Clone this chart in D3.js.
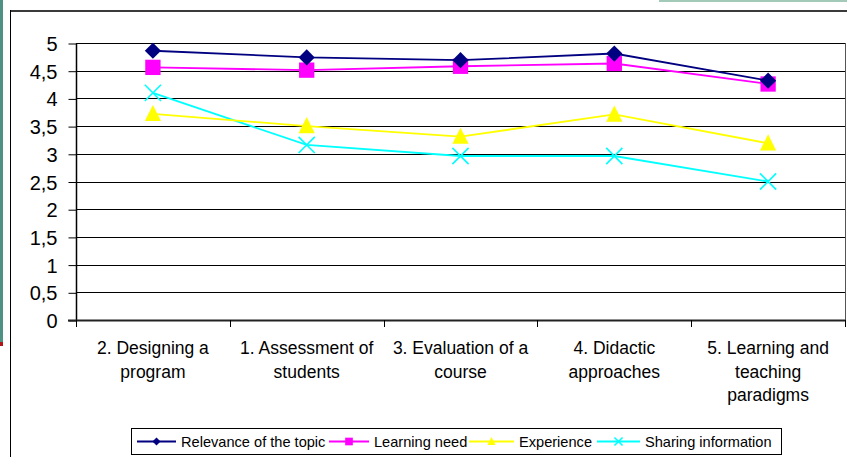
<!DOCTYPE html>
<html>
<head>
<meta charset="utf-8">
<script src="https://cdn.jsdelivr.net/npm/d3@7"></script>
<style>
  html, body { margin: 0; padding: 0; background: #fff; }
  svg { display: block; }
  text { font-family: Arial, "Liberation Sans", sans-serif; fill: #000; }
</style>
</head>
<body>
<svg id="chart" width="847" height="457"></svg>
<script>
// Topics on the horizontal axis (each split into display lines)
const categories = [
  ["2. Designing a", "program"],
  ["1. Assessment of", "students"],
  ["3. Evaluation of a", "course"],
  ["4. Didactic", "approaches"],
  ["5. Learning and", "teaching", "paradigms"]
];
const yTicks = [0, 0.5, 1, 1.5, 2, 2.5, 3, 3.5, 4, 4.5, 5];
const yTickLabels = ["0", "0,5", "1", "1,5", "2", "2,5", "3", "3,5", "4", "4,5", "5"];

// Mean scores per topic
const relevance = [4.86, 4.74, 4.69, 4.81, 4.32];
const learningNeed = [4.56, 4.51, 4.58, 4.63, 4.26];
const experience = [3.72, 3.50, 3.31, 3.71, 3.19];
const sharing = [4.10, 3.16, 2.96, 2.96, 2.50];

const seriesNames = ["Relevance of the topic", "Learning need", "Experience", "Sharing information"];

const series = [
  { name: seriesNames[0], values: relevance, color: "#000080", marker: "diamond" },
  { name: seriesNames[1], values: learningNeed, color: "#ff00ff", marker: "square" },
  { name: seriesNames[2], values: experience, color: "#ffff00", marker: "triangle" },
  { name: seriesNames[3], values: sharing, color: "#00ffff", marker: "cross" }
];

const svg = d3.select("#chart");

// Slide decoration: accent bars and the chart frame
svg.append("rect").attr("x", 0).attr("y", 0).attr("width", 3).attr("height", 342).attr("fill", "#4e9381");
svg.append("rect").attr("x", 0).attr("y", 342).attr("width", 3).attr("height", 4).attr("fill", "#b01818");
svg.append("rect").attr("x", 659).attr("y", 0).attr("width", 188).attr("height", 2).attr("fill", "#a3c9b9");
svg.append("line").attr("x1", 10).attr("x2", 847).attr("y1", 11).attr("y2", 11)
  .attr("stroke", "#3a3a3a").attr("stroke-width", 2);
svg.append("line").attr("x1", 10.5).attr("x2", 10.5).attr("y1", 10).attr("y2", 457)
  .attr("stroke", "#000").attr("stroke-width", 1);

const plot = { left: 76, right: 845, top: 43, bottom: 320 };

const x = d3.scaleBand()
  .domain(d3.range(categories.length))
  .range([plot.left, plot.right])
  .paddingInner(0).paddingOuter(0);

const y = d3.scaleLinear().domain([0, 5]).range([plot.bottom, plot.top]);

// Horizontal gridlines
svg.append("g")
  .selectAll("line")
  .data(yTicks.slice(1))
  .join("line")
  .attr("x1", plot.left).attr("x2", plot.right)
  .attr("y1", d => Math.round(y(d)) + 0.5).attr("y2", d => Math.round(y(d)) + 0.5)
  .attr("stroke", "#000").attr("stroke-width", 1);

// Plot area right border
svg.append("line")
  .attr("x1", plot.right + 0.5).attr("x2", plot.right + 0.5)
  .attr("y1", y(5)).attr("y2", plot.bottom)
  .attr("stroke", "#555").attr("stroke-width", 1);

// Y axis
const yAxis = d3.axisLeft(y)
  .tickValues(yTicks)
  .tickFormat((d, i) => yTickLabels[i])
  .tickSize(8)
  .tickPadding(11);
const yG = svg.append("g")
  .attr("transform", `translate(${plot.left + 0.5},0.5)`)
  .call(yAxis);
yG.selectAll("text").style("font-size", "20px").attr("dy", "0.35em");
yG.selectAll("line").attr("stroke", "#000");
yG.select(".domain").attr("stroke", "#000").attr("d", `M0,${y(5)}V${plot.bottom}`).attr("stroke-width", 1.5);

// X axis with ticks between categories
const xG = svg.append("g").attr("transform", `translate(0,${plot.bottom})`);
xG.append("line")
  .attr("x1", plot.left - 8).attr("x2", plot.right + 0.5)
  .attr("y1", 0.5).attr("y2", 0.5)
  .attr("stroke", "#222").attr("stroke-width", 2);
const boundaries = d3.range(categories.length + 1).map(i =>
  i < categories.length ? x(i) : x(categories.length - 1) + x.bandwidth());
xG.selectAll(".tick")
  .data(boundaries)
  .join("line")
  .attr("class", "tick")
  .attr("x1", d => Math.round(d) + 0.5).attr("x2", d => Math.round(d) + 0.5)
  .attr("y1", 0).attr("y2", 7)
  .attr("stroke", "#000");

const labels = xG.selectAll(".cat")
  .data(categories)
  .join("text")
  .attr("class", "cat")
  .attr("text-anchor", "middle")
  .style("font-size", "17.5px")
  .attr("transform", (d, i) => `translate(${x(i) + x.bandwidth() / 2},34)`);
labels.selectAll("tspan")
  .data(d => d)
  .join("tspan")
  .attr("x", 0)
  .attr("y", (d, i) => i * 23.5)
  .text(d => d);

// Marker shapes
function drawMarker(g, type, color, size) {
  if (type === "diamond") {
    const s = size * 0.9;
    g.append("path").attr("d", `M0,${-s}L${s},0L0,${s}L${-s},0Z`).attr("fill", color);
  } else if (type === "square") {
    const s = size * 0.85;
    g.append("rect").attr("x", -s).attr("y", -s).attr("width", 2 * s).attr("height", 2 * s).attr("fill", color);
  } else if (type === "triangle") {
    const s = size;
    g.append("path").attr("d", `M0,${-s}L${s * 0.9},${s * 0.8}L${-s * 0.9},${s * 0.8}Z`).attr("fill", color);
  } else if (type === "cross") {
    const s = size * 0.9;
    g.append("path").attr("d", `M${-s},${-s}L${s},${s}M${-s},${s}L${s},${-s}`)
      .attr("stroke", color).attr("stroke-width", 1.6).attr("fill", "none");
  }
}

const line = d3.line()
  .x((d, i) => x(i) + x.bandwidth() / 2)
  .y(d => y(d));

// Draw series in reverse so the first series sits on top
[...series].reverse().forEach(s => {
  const g = svg.append("g");
  g.append("path")
    .datum(s.values)
    .attr("d", line)
    .attr("fill", "none")
    .attr("stroke", s.color)
    .attr("stroke-width", 1.8);
  s.values.forEach((v, i) => {
    const m = g.append("g").attr("transform", `translate(${x(i) + x.bandwidth() / 2},${y(v)})`);
    drawMarker(m, s.marker, s.color, 9);
  });
});

// Legend
const legend = svg.append("g");
legend.append("rect")
  .attr("x", 131.5).attr("y", 428.5).attr("width", 650).attr("height", 26)
  .attr("fill", "#fff").attr("stroke", "#000").attr("stroke-width", 1);

const legendItems = [
  { lx: 137, tx: 181 },
  { lx: 329, tx: 374 },
  { lx: 469, tx: 519 },
  { lx: 597, tx: 645 }
];
series.forEach((s, i) => {
  const it = legendItems[i];
  const gy = 441.5;
  const lw = it.tx - it.lx - 5;
  legend.append("line")
    .attr("x1", it.lx).attr("x2", it.lx + lw)
    .attr("y1", gy).attr("y2", gy)
    .attr("stroke", s.color).attr("stroke-width", 1.8);
  const m = legend.append("g").attr("transform", `translate(${it.lx + lw / 2},${gy})`);
  drawMarker(m, s.marker, s.color, 4.5);
  legend.append("text")
    .attr("x", it.tx).attr("y", gy)
    .attr("dy", "0.35em")
    .style("font-size", "14.6px")
    .text(s.name);
});
</script>
</body>
</html>
